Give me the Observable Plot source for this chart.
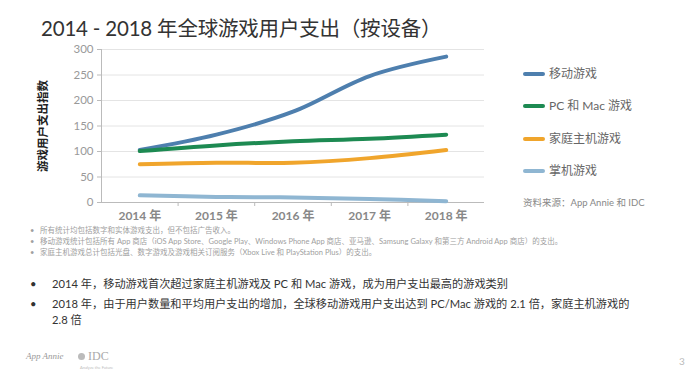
<!DOCTYPE html>
<html>
<head>
<meta charset="utf-8">
<script src="https://cdn.jsdelivr.net/npm/d3@7"></script>
<script src="https://cdn.jsdelivr.net/npm/@observablehq/plot@0.6"></script>
<style>
  html, body { margin: 0; padding: 0; background: #fff; }
  #page { position: relative; width: 688px; height: 387px; overflow: hidden; background: #fff;
    font-family: "Lato", "Noto Sans CJK SC", sans-serif; }
  .abs { position: absolute; white-space: nowrap; }
  #title { left: 41px; top: 12px; font-size: 20.5px; color: #333; letter-spacing: -0.2px; }
  #ylabel { left: 42px; top: 126px; transform: translate(-50%, -50%) rotate(-90deg); font-size: 11.5px; font-weight: bold; color: #222; }
  #chart { position: absolute; left: 0; top: 0; }
  .leg { position: absolute; left: 523px; font-size: 12px; color: #666; }
  .leg span.sw { display: inline-block; width: 22px; height: 4px; border-radius: 2px; vertical-align: middle; margin-right: 4px; position: relative; top: -1px; }
  #source { left: 523px; top: 195px; font-size: 9.5px; color: #888; }
  .fn { position: absolute; left: 30px; font-size: 7.5px; color: #a0a0a0; }
  .fn b { font-weight: normal; display: inline-block; width: 10px; }
  .bl { position: absolute; left: 30px; font-size: 11.2px; color: #333; line-height: 16px; }
  .bl .dot { position: absolute; left: 0; }
  .bl .tx { margin-left: 22px; display: block; }
  #logo1 { left: 26px; top: 351px; font-size: 9px; font-style: italic; color: #999; font-family: "Liberation Serif", serif; }
  #logo2 { left: 88px; top: 349px; font-size: 12px; color: #aaa; font-family: "Liberation Serif", serif; }
  #logo2dot { left: 78px; top: 353px; width: 7px; height: 7px; border-radius: 50%; background: #bbb; }
  #logo2sub { left: 80px; top: 365px; font-size: 4px; color: #bbb; }
  #pnum { left: 679px; top: 355px; font-size: 10px; color: #bbb; }
</style>
</head>
<body>
<div id="page">
  <div id="chart"></div>
  <div id="title" class="abs">2014 - 2018 年全球游戏用户支出（按设备）</div>
  <div id="ylabel" class="abs">游戏用户支出指数</div>
  <div id="legend"></div>
  <div id="source" class="abs">资料来源：App Annie 和 IDC</div>
  <div id="notes"></div>
  <div id="bullets"></div>
  <div id="logo1" class="abs">App Annie</div>
  <div id="logo2dot" class="abs"></div>
  <div id="logo2" class="abs">IDC</div>
  <div id="logo2sub" class="abs">Analyze the Future</div>
  <div id="pnum" class="abs">3</div>
</div>
<script>
// ---- data ----
const years = [2014, 2015, 2016, 2017, 2018];
const yearLabels = ["2014 年", "2015 年", "2016 年", "2017 年", "2018 年"];
const seriesNames = ["移动游戏", "PC 和 Mac 游戏", "家庭主机游戏", "掌机游戏"];
const seriesColors = ["#4e7fae", "#1d8a52", "#f0a52c", "#8fb6d2"];
const mobile   = [103, 133, 178, 248, 286];
const pcMac    = [101, 112, 120, 125, 133];
const console_ = [75, 78, 78, 87, 103];
const handheld = [14, 11, 10, 7, 2.5];
const yTicks = [0, 50, 100, 150, 200, 250, 300];
const notes = [
  "所有统计均包括数字和实体游戏支出，但不包括广告收入。",
  "移动游戏统计包括所有 App 商店（iOS App Store、Google Play、Windows Phone App 商店、亚马逊、Samsung Galaxy 和第三方 Android App 商店）的支出。",
  "家庭主机游戏总计包括光盘、数字游戏及游戏相关订阅服务（Xbox Live 和 PlayStation Plus）的支出。"
];
const bullets = [
  ["2014 年，移动游戏首次超过家庭主机游戏及 PC 和 Mac 游戏，成为用户支出最高的游戏类别"],
  ["2018 年，由于用户数量和平均用户支出的增加，全球移动游戏用户支出达到 PC/Mac 游戏的 2.1 倍，家庭主机游戏的", "2.8 倍"]
];

const allSeries = [mobile, pcMac, console_, handheld];
const rows = [];
allSeries.forEach((vals, si) => vals.forEach((v, i) => rows.push({series: seriesNames[si], year: years[i], value: v})));
const boundaries = years.slice(0, -1).map(y => y + 0.5);

const chart = Plot.plot({
  width: 500,
  height: 230,
  marginLeft: 101,
  marginRight: 16,
  marginTop: 49,
  marginBottom: 28,
  style: {fontFamily: '"Lato", "Noto Sans CJK SC", sans-serif', background: "transparent"},
  x: {domain: [years[0] - 0.5, years[years.length - 1] + 0.5]},
  y: {domain: [0, 300]},
  color: {domain: seriesNames, range: seriesColors},
  marks: [
    Plot.gridY(yTicks.slice(1), {stroke: "#e4e4e4", strokeOpacity: 1, x1: years[0] - 0.5, x2: years[years.length - 1] + 0.5}),
    Plot.ruleY([0], {stroke: "#bbb"}),
    Plot.ruleX([years[0] - 0.5], {stroke: "#bbb"}),
    Plot.axisY(yTicks, {tickSize: 4, tickPadding: 4, stroke: "#bbb", color: "#999", fontSize: 11.5, label: null}),
    Plot.axisX(boundaries, {tickSize: 4, tickFormat: () => "", stroke: "#bbb", label: null}),
    Plot.axisX(years, {tickSize: 0, tickPadding: 9, tickFormat: (d) => yearLabels[years.indexOf(d)], color: "#888", fontSize: 12, fontWeight: "bold", label: null}),
    Plot.line(rows, {x: "year", y: "value", z: "series", stroke: "series", strokeWidth: 4, curve: "catmull-rom", strokeLinecap: "round"})
  ]
});
document.getElementById("chart").appendChild(chart);

// legend
const legTop = [64, 96, 129, 161];
const legend = document.getElementById("legend");
seriesNames.forEach((n, i) => {
  const d = document.createElement("div");
  d.className = "leg";
  d.style.top = legTop[i] + "px";
  d.innerHTML = `<span class="sw" style="background:${seriesColors[i]}"></span>${n}`;
  legend.appendChild(d);
});

// footnotes
const notesEl = document.getElementById("notes");
notes.forEach((t, i) => {
  const d = document.createElement("div");
  d.className = "fn";
  d.style.top = (224 + i * 10.8) + "px";
  d.innerHTML = `<b>•</b>${t}`;
  notesEl.appendChild(d);
});

// bullets
const bulTop = [276, 296];
const bulEl = document.getElementById("bullets");
bullets.forEach((lines, i) => {
  const d = document.createElement("div");
  d.className = "bl";
  d.style.top = bulTop[i] + "px";
  d.innerHTML = `<span class="dot">•</span><span class="tx">${lines.join("<br>")}</span>`;
  bulEl.appendChild(d);
});
</script>
</body>
</html>
